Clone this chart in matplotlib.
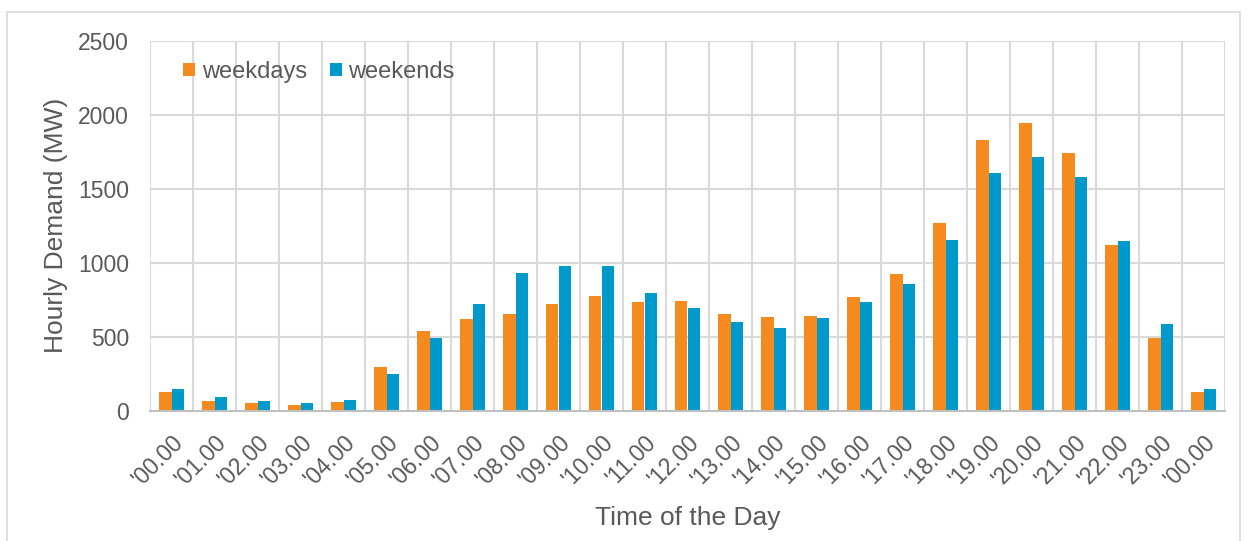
import matplotlib
matplotlib.use("Agg")
import matplotlib.pyplot as plt
import numpy as np
from matplotlib.patches import Rectangle

plt.rcParams['font.family'] = ['Liberation Sans', 'DejaVu Sans']

hours = ["'00.00", "'01.00", "'02.00", "'03.00", "'04.00", "'05.00", "'06.00",
         "'07.00", "'08.00", "'09.00", "'10.00", "'11.00", "'12.00", "'13.00",
         "'14.00", "'15.00", "'16.00", "'17.00", "'18.00", "'19.00", "'20.00",
         "'21.00", "'22.00", "'23.00", "'00.00"]
weekdays = [126, 68, 52, 43, 59, 297, 538, 620, 653, 725, 777, 734, 741, 658,
            637, 640, 772, 925, 1268, 1831, 1944, 1743, 1119, 495, 128]
weekends = [149, 95, 65, 52, 77, 250, 493, 721, 935, 982, 977, 795, 698, 599,
            563, 626, 738, 858, 1157, 1606, 1716, 1581, 1150, 586, 149]

ORANGE = "#F58B1F"
BLUE = "#0099CC"
GRID = "#D9D9D9"
TEXT = "#595959"

fig = plt.figure(figsize=(12.5, 5.41), dpi=100)
# outer chart frame
fig.patches.append(Rectangle((7 / 1250, -0.01), 1233 / 1250, 1 - 12 / 541 + 0.01,
                             transform=fig.transFigure, fill=False,
                             edgecolor=GRID, linewidth=1.2))

ax = fig.add_axes([150 / 1250, 1 - 411 / 541, 1075 / 1250, (411 - 40.7) / 541])

x = np.arange(len(hours))
w = 0.29
ax.bar(x - w / 2, weekdays, width=w, color=ORANGE, label="weekdays", zorder=3)
ax.bar(x + w / 2, weekends, width=w, color=BLUE, label="weekends", zorder=3)

ax.set_xlim(-0.5, len(hours) - 0.5)
ax.set_ylim(0, 2500)
ax.set_yticks(np.arange(0, 2501, 500))
ax.set_xticks(x)
ax.set_xticklabels(hours, rotation=45, ha="right", rotation_mode="anchor",
                   fontsize=16.5, color=TEXT)
ax.tick_params(axis="y", labelsize=16.5, labelcolor=TEXT, length=0, pad=15)
ax.tick_params(axis="x", length=0, pad=14)

# horizontal and category-boundary gridlines
for yv in np.arange(500, 2501, 500):
    ax.axhline(yv, color=GRID, linewidth=1.5, zorder=1)
for xv in np.arange(-0.5, len(hours), 1.0):
    ax.axvline(xv, color=GRID, linewidth=1.5, zorder=1)

for s in ["top", "right", "left"]:
    ax.spines[s].set_visible(False)
ax.spines["bottom"].set_color("#BFBFBF")
ax.spines["bottom"].set_linewidth(1.5)
ax.spines["bottom"].set_zorder(4)

ax.set_ylabel("Hourly Demand (MW)", fontsize=19, color=TEXT, labelpad=7)
ax.set_xlabel("Time of the Day", fontsize=19, color=TEXT, labelpad=11)

leg = ax.legend(loc="upper left", bbox_to_anchor=(0.0307, 0.946), ncol=2,
                frameon=False, fontsize=17, handlelength=0.51, handleheight=0.51,
                handletextpad=0.28, columnspacing=0.97, borderpad=0,
                borderaxespad=0)
for t in leg.get_texts():
    t.set_color(TEXT)

fig.savefig("out.png", dpi=100)
